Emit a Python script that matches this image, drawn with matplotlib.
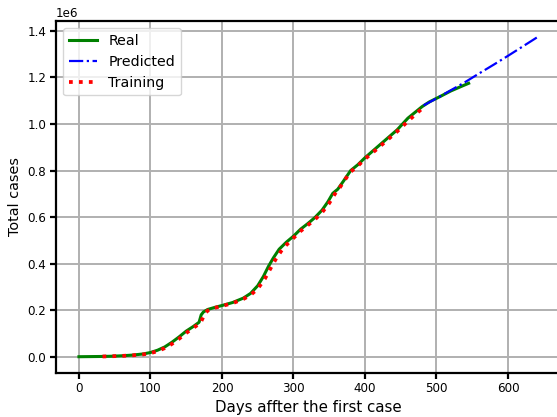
import numpy as np
import matplotlib
matplotlib.use("Agg")
import matplotlib.pyplot as plt

# Datos (días, casos totales)
real_days = [0, 15, 30, 45, 60, 75, 90, 100, 110, 120, 130, 140, 150, 160, 168,
             171, 174, 180, 190, 200, 215, 230, 240, 250, 258, 265, 272, 280,
             290, 300, 310, 320, 330, 340, 348, 355, 362, 370, 380, 390, 400,
             415, 430, 445, 460, 470, 480, 490, 505, 520, 535, 545]
real_cases = [0, 500, 1000, 2000, 4000, 7000, 12000, 18000, 28000, 42000, 62000,
              85000, 110000, 130000, 148000, 180000, 192000, 203000, 212000,
              220000, 233000, 252000, 272000, 305000, 345000, 388000, 425000,
              462000, 492000, 518000, 548000, 572000, 598000, 630000, 665000,
              702000, 720000, 755000, 800000, 825000, 855000, 895000, 935000,
              975000, 1025000, 1050000, 1075000, 1095000, 1118000, 1142000,
              1162000, 1175000]

train_days = [33, 45, 60, 75, 90, 100, 110, 120, 130, 140, 150, 160, 170, 176,
              180, 190, 200, 215, 230, 240, 250, 260, 268, 275, 283, 290, 300,
              310, 320, 330, 340, 350, 358, 365, 373, 380, 390, 400, 415, 430,
              445, 460, 470, 482]
train_cases = [1000, 2000, 3500, 6000, 10000, 15000, 24000, 37000, 55000, 77000,
               102000, 124000, 145000, 185000, 198000, 210000, 218000, 230000,
               248000, 265000, 292000, 335000, 380000, 418000, 455000, 480000,
               510000, 540000, 565000, 590000, 620000, 660000, 700000, 728000,
               765000, 795000, 820000, 850000, 888000, 928000, 968000, 1012000,
               1040000, 1072000]

pred_days = [482, 500, 520, 540, 560, 580, 600, 620, 642]
pred_cases = [1080000, 1110000, 1145000, 1180000, 1218000, 1255000, 1293000,
              1332000, 1375000]

fig = plt.figure(figsize=(5.57, 4.17), dpi=100)
ax = fig.add_axes([0.1005, 0.1062, 0.9066, 0.844])

ax.plot(real_days, real_cases, color="green", linestyle="-", linewidth=2.2,
        label="Real")
ax.plot(pred_days, pred_cases, color="blue", linestyle="-.", linewidth=1.6,
        label="Predicted")
ax.plot(train_days, train_cases, color="red", linestyle=":", linewidth=2.7,
        label="Training")

ax.grid(True, color="#b0b0b0", linewidth=1.4)
ax.set_axisbelow(True)
for s in ax.spines.values():
    s.set_linewidth(1.6)
ax.tick_params(width=1.6, length=4, labelsize=8.6, pad=3)
ax.yaxis.get_offset_text().set_fontsize(8.6)
ax.set_xticks([0, 100, 200, 300, 400, 500, 600])
ax.set_yticks(np.arange(0, 1.41e6, 0.2e6))

ax.set_xlabel("Days affter the first case", fontsize=10.8, labelpad=3)
ax.set_ylabel("Total cases", fontsize=10.4)
ax.legend(loc="upper left", fontsize=10.2)

fig.savefig("out.png", dpi=100)
